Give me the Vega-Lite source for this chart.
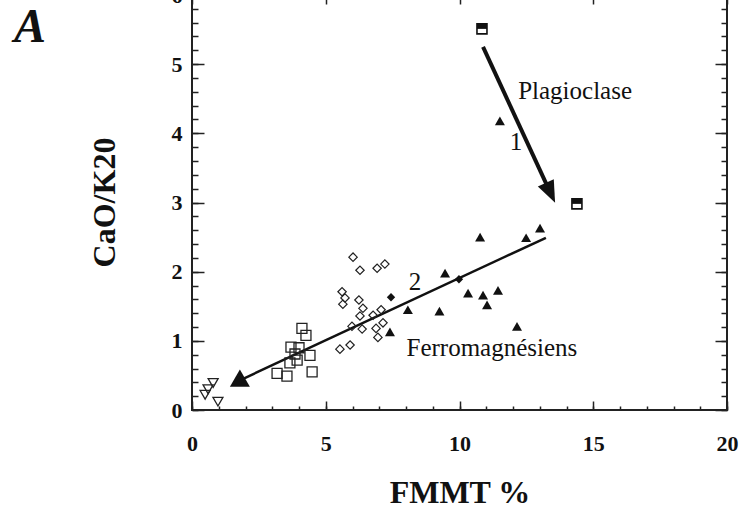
{
  "$schema": "https://vega.github.io/schema/vega-lite/v6.json",
  "width": 535,
  "height": 415,
  "autosize": "none",
  "padding": {"left": 192, "top": -5, "right": 16, "bottom": 101},
  "background": "white",
  "config": {
    "view": {"stroke": "#222", "strokeWidth": 2},
    "font": "Liberation Serif"
  },
  "datasets": {
    "squares": [
      {"x": 4.11, "y": 1.18}, {"x": 4.26, "y": 1.08}, {"x": 3.70, "y": 0.91}, {"x": 4.0, "y": 0.90},
      {"x": 3.85, "y": 0.81}, {"x": 4.41, "y": 0.79}, {"x": 3.66, "y": 0.68}, {"x": 3.93, "y": 0.72},
      {"x": 3.18, "y": 0.53}, {"x": 3.55, "y": 0.49}, {"x": 4.49, "y": 0.55}
    ],
    "diamonds": [
      {"x": 6.02, "y": 2.21}, {"x": 6.28, "y": 2.02}, {"x": 6.92, "y": 2.05}, {"x": 7.21, "y": 2.11},
      {"x": 5.61, "y": 1.71}, {"x": 5.72, "y": 1.62}, {"x": 5.64, "y": 1.53}, {"x": 6.24, "y": 1.59},
      {"x": 6.39, "y": 1.47}, {"x": 6.28, "y": 1.36}, {"x": 6.77, "y": 1.37}, {"x": 7.07, "y": 1.45},
      {"x": 5.98, "y": 1.21}, {"x": 6.36, "y": 1.17}, {"x": 6.88, "y": 1.18}, {"x": 7.14, "y": 1.26},
      {"x": 6.95, "y": 1.05}, {"x": 5.53, "y": 0.88}, {"x": 5.91, "y": 0.94}
    ],
    "downtri": [
      {"x": 0.79, "y": 0.39}, {"x": 0.60, "y": 0.30}, {"x": 0.49, "y": 0.22}, {"x": 0.97, "y": 0.12}
    ],
    "triangles": [
      {"x": 11.51, "y": 4.18}, {"x": 10.77, "y": 2.50}, {"x": 12.49, "y": 2.49}, {"x": 13.01, "y": 2.63},
      {"x": 9.46, "y": 1.98}, {"x": 10.32, "y": 1.69}, {"x": 10.88, "y": 1.66}, {"x": 11.03, "y": 1.52},
      {"x": 11.44, "y": 1.73}, {"x": 12.15, "y": 1.21}, {"x": 9.25, "y": 1.43}, {"x": 8.07, "y": 1.45},
      {"x": 7.40, "y": 1.13}
    ],
    "fdiamonds": [
      {"x": 7.44, "y": 1.63}, {"x": 9.98, "y": 1.89}
    ],
    "plag": [
      {"x": 10.84, "y": 5.51}, {"x": 14.39, "y": 2.98}
    ],
    "bigtri": [
      {"x": 1.79, "y": 0.46}
    ],
    "arrow": [
      {"x": 10.88, "y": 5.25, "xe": 13.4, "ye": 3.14}
    ],
    "arrowhead": [
      {"x": 13.4, "y": 3.14}
    ],
    "trend": [
      {"x": 1.79, "y": 0.43, "xe": 13.23, "ye": 2.49}
    ],
    "notes": [
      {"x": 14.32, "y": 4.49, "label": "Plagioclase"},
      {"x": 12.11, "y": 3.76, "label": "1"},
      {"x": 8.34, "y": 1.73, "label": "2"},
      {"x": 11.21, "y": 0.78, "label": "Ferromagnésiens"}
    ],
    "panel": [
      {"x": -6.06, "y": 5.32, "label": "A"}
    ]
  },
  "layer": [
    {
      "data": {"name": "trend"},
      "mark": {"type": "rule", "color": "#111", "strokeWidth": 2.5},
      "encoding": {
        "x": {"field": "x", "type": "quantitative", "scale": {"domain": [0, 20], "nice": false, "zero": false},
          "axis": {"orient": "bottom", "values": [0,5,10,15,20], "labels": false, "domain": false, "grid": false, "title": null, "tickSize": -9, "tickWidth": 1.5, "tickColor": "#222"}},
        "y": {"field": "y", "type": "quantitative", "scale": {"domain": [0, 6], "nice": false, "zero": false},
          "axis": {"orient": "left", "values": [0,1,2,3,4,5,6], "labels": false, "domain": false, "grid": false, "title": null, "tickSize": -12, "tickWidth": 1.5, "tickColor": "#222"}},
        "x2": {"field": "xe"},
        "y2": {"field": "ye"}
      }
    },
    {
      "data": {"name": "arrow"},
      "mark": {"type": "rule", "color": "#111", "strokeWidth": 4},
      "encoding": {
        "x": {"field": "x", "type": "quantitative",
          "axis": {"orient": "top", "values": [0,5,10,15,20], "labels": false, "domain": false, "grid": false, "title": null, "tickSize": -9, "tickWidth": 1.5, "tickColor": "#222"}},
        "y": {"field": "y", "type": "quantitative",
          "axis": {"orient": "right", "values": [0,1,2,3,4,5,6], "labels": false, "domain": false, "grid": false, "title": null, "tickSize": -12, "tickWidth": 1.5, "tickColor": "#222"}},
        "x2": {"field": "xe"},
        "y2": {"field": "ye"}
      }
    },
    {
      "data": {"name": "arrowhead"},
      "mark": {"type": "point", "shape": "M0,1L-0.8,-1L0.8,-1Z", "filled": true, "color": "#111", "opacity": 1, "size": 484, "angle": 335},
      "encoding": {
        "x": {"field": "x", "type": "quantitative", "axis": null},
        "y": {"field": "y", "type": "quantitative", "axis": null}
      }
    },
    {
      "data": {"name": "squares"},
      "mark": {"type": "point", "shape": "square", "filled": false, "color": "#222", "opacity": 1, "strokeWidth": 1.3, "size": 100},
      "encoding": {
        "x": {
          "field": "x", "type": "quantitative",
          "axis": {
            "orient": "bottom",
            "values": [0,1,2,3,4,5,6,7,8,9,10,11,12,13,14,15,16,17,18,19,20],
            "labelExpr": "datum.value % 5 === 0 ? datum.label : ''",
            "labelOverlap": false,
            "labelFlush": false,
            "domain": false,
            "grid": false,
            "tickSize": -4,
            "tickWidth": 1.5,
            "tickColor": "#222",
            "labelFont": "Liberation Serif",
            "labelFontWeight": "bold",
            "labelFontSize": 22,
            "labelColor": "#111",
            "labelPadding": 27,
            "title": "FMMT %",
            "titleFont": "Liberation Serif",
            "titleFontSize": 32,
            "titleFontWeight": "bold",
            "titleColor": "#111",
            "titleBaseline": "alphabetic",
            "titleY": 92
          }
        },
        "y": {
          "field": "y", "type": "quantitative",
          "axis": {
            "orient": "left",
            "values": [0,0.2,0.4,0.6,0.8,1,1.2,1.4,1.6,1.8,2,2.2,2.4,2.6,2.8,3,3.2,3.4,3.6,3.8,4,4.2,4.4,4.6,4.8,5,5.2,5.4,5.6,5.8,6],
            "labelExpr": "abs(datum.value - round(datum.value)) < 0.001 ? format(datum.value, 'd') : ''",
            "labelOverlap": false,
            "labelFlush": false,
            "domain": false,
            "grid": false,
            "tickSize": -6,
            "tickWidth": 1.5,
            "tickColor": "#222",
            "labelFont": "Liberation Serif",
            "labelFontWeight": "bold",
            "labelFontSize": 22,
            "labelColor": "#111",
            "labelPadding": 16,
            "title": "CaO/K20",
            "titleFont": "Liberation Serif",
            "titleFontSize": 32,
            "titleFontWeight": "bold",
            "titleColor": "#111",
            "titleAngle": 270,
            "titleAlign": "center",
            "titleBaseline": "middle",
            "titleX": -88,
            "titleY": 207
          }
        }
      }
    },
    {
      "data": {"name": "diamonds"},
      "mark": {"type": "point", "shape": "diamond", "filled": false, "color": "#222", "opacity": 1, "strokeWidth": 1.2, "size": 70},
      "encoding": {
        "x": {
          "field": "x", "type": "quantitative",
          "axis": {
            "orient": "top",
            "values": [0,1,2,3,4,5,6,7,8,9,10,11,12,13,14,15,16,17,18,19,20],
            "labels": false,
            "domain": false,
            "grid": false,
            "title": null,
            "tickSize": -4,
            "tickWidth": 1.5,
            "tickColor": "#222"
          }
        },
        "y": {
          "field": "y", "type": "quantitative",
          "axis": {
            "orient": "right",
            "values": [0,0.2,0.4,0.6,0.8,1,1.2,1.4,1.6,1.8,2,2.2,2.4,2.6,2.8,3,3.2,3.4,3.6,3.8,4,4.2,4.4,4.6,4.8,5,5.2,5.4,5.6,5.8,6],
            "labels": false,
            "domain": false,
            "grid": false,
            "title": null,
            "tickSize": -6,
            "tickWidth": 1.5,
            "tickColor": "#222"
          }
        }
      }
    },
    {
      "data": {"name": "downtri"},
      "mark": {"type": "point", "shape": "triangle-down", "filled": false, "color": "#222", "opacity": 1, "strokeWidth": 1.3, "size": 100},
      "encoding": {
        "x": {"field": "x", "type": "quantitative", "axis": null},
        "y": {"field": "y", "type": "quantitative", "axis": null}
      }
    },
    {
      "data": {"name": "triangles"},
      "mark": {"type": "point", "shape": "triangle-up", "filled": true, "color": "#111", "opacity": 1, "size": 100},
      "encoding": {
        "x": {"field": "x", "type": "quantitative", "axis": null},
        "y": {"field": "y", "type": "quantitative", "axis": null}
      }
    },
    {
      "data": {"name": "fdiamonds"},
      "mark": {"type": "point", "shape": "diamond", "filled": true, "color": "#111", "opacity": 1, "size": 70},
      "encoding": {
        "x": {"field": "x", "type": "quantitative", "axis": null},
        "y": {"field": "y", "type": "quantitative", "axis": null}
      }
    },
    {
      "data": {"name": "bigtri"},
      "mark": {"type": "point", "shape": "triangle-up", "filled": true, "color": "#111", "opacity": 1, "size": 400},
      "encoding": {
        "x": {"field": "x", "type": "quantitative", "axis": null},
        "y": {"field": "y", "type": "quantitative", "axis": null}
      }
    },
    {
      "data": {"name": "plag"},
      "mark": {"type": "point", "shape": "square", "filled": false, "fill": "white", "stroke": "#111", "opacity": 1, "strokeWidth": 1.6, "size": 100},
      "encoding": {
        "x": {"field": "x", "type": "quantitative", "axis": null},
        "y": {"field": "y", "type": "quantitative", "axis": null}
      }
    },
    {
      "data": {"name": "plag"},
      "mark": {"type": "point", "shape": "M-1,-1L1,-1L1,0L-1,0Z", "filled": true, "color": "#111", "opacity": 1, "size": 100},
      "encoding": {
        "x": {"field": "x", "type": "quantitative", "axis": null},
        "y": {"field": "y", "type": "quantitative", "axis": null}
      }
    },
    {
      "data": {"name": "notes"},
      "mark": {"type": "text", "font": "Liberation Serif", "fontSize": 25, "color": "#111", "align": "center", "baseline": "alphabetic"},
      "encoding": {
        "x": {"field": "x", "type": "quantitative", "axis": null},
        "y": {"field": "y", "type": "quantitative", "axis": null},
        "text": {"field": "label"}
      }
    },
    {
      "data": {"name": "panel"},
      "mark": {"type": "text", "font": "Liberation Serif", "fontSize": 48, "fontWeight": "bold", "fontStyle": "italic", "color": "#111", "align": "center", "baseline": "alphabetic"},
      "encoding": {
        "x": {"field": "x", "type": "quantitative", "axis": null},
        "y": {"field": "y", "type": "quantitative", "axis": null},
        "text": {"field": "label"}
      }
    }
  ],
  "resolve": {"axis": {"x": "independent", "y": "independent"}}
}
